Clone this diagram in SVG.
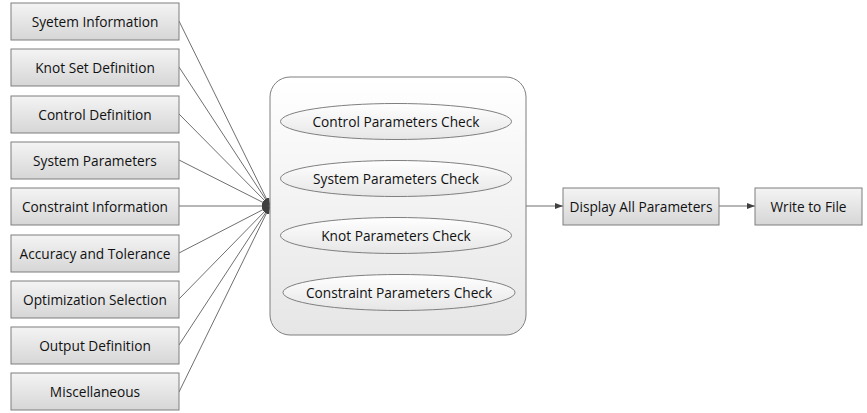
<svg xmlns="http://www.w3.org/2000/svg" width="867" height="413" viewBox="0 0 867 413">
<defs>
<linearGradient id="g" x1="0" y1="0" x2="0" y2="1"><stop offset="0" stop-color="#f4f4f4"/><stop offset="1" stop-color="#d6d6d6"/></linearGradient>
<linearGradient id="gc" x1="0" y1="0" x2="0" y2="1"><stop offset="0" stop-color="#ffffff"/><stop offset="1" stop-color="#e6e6e6"/></linearGradient>
<marker id="a" markerWidth="8" markerHeight="6" refX="8" refY="3" orient="auto" markerUnits="userSpaceOnUse"><path d="M0,0 L8,3 L0,6 Z" fill="#404040"/></marker>
</defs>
<style>
.b{fill:url(#g);stroke:#7f7f7f;stroke-width:1}
.e{fill:url(#gc);stroke:#7f7f7f;stroke-width:1}
text{font-family:"Open Sans","Liberation Sans",sans-serif;font-size:13.7px;fill:#111;text-anchor:middle;dominant-baseline:central}
.c{fill:none;stroke:#6f6f6f;stroke-width:1;marker-end:url(#a)}
</style>
<g id="connectors">
<path class="c" d="M179,21 L270,206"/>
<path class="c" d="M179,67 L270,206"/>
<path class="c" d="M179,114 L270,206"/>
<path class="c" d="M179,160 L270,206"/>
<path class="c" d="M179,206 L270,206"/>
<path class="c" d="M179,253 L270,206"/>
<path class="c" d="M179,299 L270,206"/>
<path class="c" d="M179,345 L270,206"/>
<path class="c" d="M179,392 L270,206"/>
<path class="c" d="M526,206 L563,206"/>
<path class="c" d="M719,206 L755,206"/>
</g>
<g id="n1"><rect class="b" x="11" y="3" width="168" height="37"/><text x="95" y="21">Syetem Information</text></g>
<g id="n2"><rect class="b" x="11" y="49" width="168" height="37"/><text x="95" y="67">Knot Set Definition</text></g>
<g id="n3"><rect class="b" x="11" y="96" width="168" height="37"/><text x="95" y="114">Control Definition</text></g>
<g id="n4"><rect class="b" x="11" y="142" width="168" height="37"/><text x="95" y="160">System Parameters</text></g>
<g id="n5"><rect class="b" x="11" y="188" width="168" height="37"/><text x="95" y="206">Constraint Information</text></g>
<g id="n6"><rect class="b" x="11" y="235" width="168" height="37"/><text x="95" y="253">Accuracy and Tolerance</text></g>
<g id="n7"><rect class="b" x="11" y="281" width="168" height="37"/><text x="95" y="299">Optimization Selection</text></g>
<g id="n8"><rect class="b" x="11" y="327" width="168" height="37"/><text x="95" y="345">Output Definition</text></g>
<g id="n9"><rect class="b" x="11" y="373" width="168" height="37"/><text x="95" y="391">Miscellaneous</text></g>
<g id="check">
<rect class="e" x="270" y="77" width="256" height="258" rx="20" ry="20"/>
<ellipse class="e" cx="396" cy="121.5" rx="115.5" ry="18"/><text x="396" y="121">Control Parameters Check</text>
<ellipse class="e" cx="396" cy="178.5" rx="115.5" ry="18"/><text x="396" y="178">System Parameters Check</text>
<ellipse class="e" cx="396" cy="235.5" rx="115.5" ry="18"/><text x="396" y="235">Knot Parameters Check</text>
<ellipse class="e" cx="399" cy="292.5" rx="116" ry="18"/><text x="399" y="292">Constraint Parameters Check</text>
</g>
<g id="display"><rect class="b" x="563" y="188" width="156" height="37"/><text x="641" y="206">Display All Parameters</text></g>
<g id="write"><rect class="b" x="755" y="188" width="107" height="37"/><text x="808.5" y="206">Write to File</text></g>
</svg>
